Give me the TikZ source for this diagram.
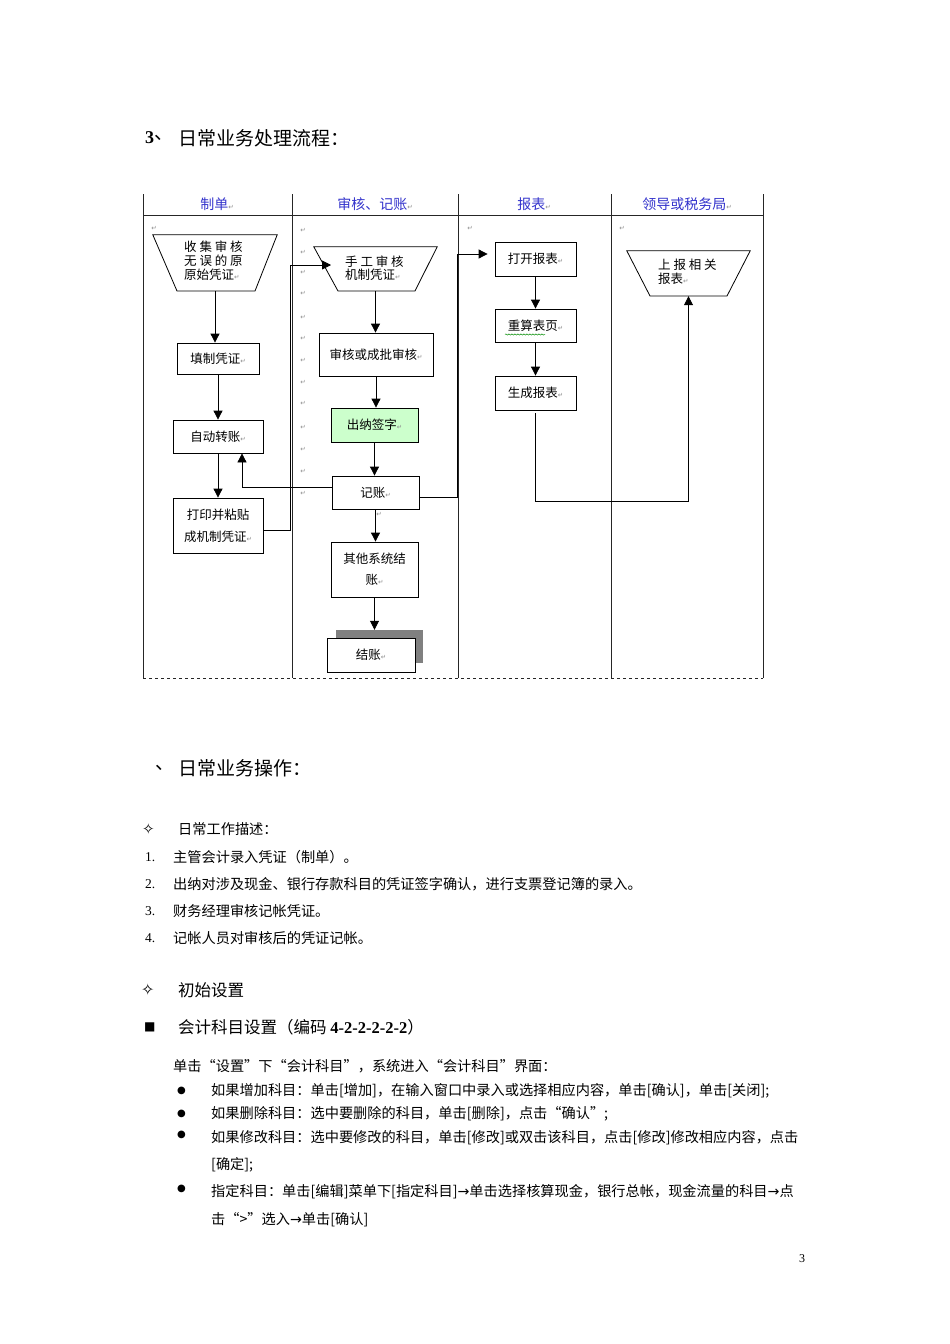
\documentclass[tikz,border=0pt]{standalone}
\usepackage{fontspec}
\setmainfont{Noto Sans CJK SC}
\newfontfamily\serifL{Liberation Serif}
\newfontfamily\djv{DejaVu Sans}
\usetikzlibrary{arrows.meta,decorations.pathmorphing}
\definecolor{hdrblue}{RGB}{51,51,204}
\definecolor{signgreen}{RGB}{204,255,204}
\newcommand\pmark{{\djv\fontsize{6.5}{6.5}\selectfont\color{black!45}↵}}
\newcommand\fnode[7][]{\node[flowbox,minimum width={(#5-#3)*1pt},minimum height={(#6-#4)*1pt},#1] (#2) at ({(#3+#5)/2},{(#4+#6)/2}) {#7};}
\begin{document}
\begin{tikzpicture}[x=1pt,y=-1pt,
  flowbox/.style={draw=black, line width=0.8pt, fill=white, inner sep=0pt, font=\fontsize{12.5}{15}\selectfont, align=center},
  conn/.style={draw=black, line width=0.8pt},
  arr/.style={conn, -{Triangle[length=9pt,width=9pt]}},
  lane/.style={draw=black!85, line width=0.8pt},
  hdr/.style={text=hdrblue, font=\fontsize{14}{16}\selectfont, inner sep=0pt},
  pm/.style={inner sep=0pt, font=\djv\fontsize{6.5}{6.5}\selectfont, text=black!45},
  body/.style={anchor=west, inner sep=0pt, font=\fontsize{14.2}{16}\selectfont},
  trapbox/.style={inner sep=0pt, draw=none},
]
\useasboundingbox (0,0) rectangle (950,1344);
\fill[white] (0,0) rectangle (950,1344);

% title
\node[anchor=west, inner sep=0pt, font=\serifL\bfseries\fontsize{18}{20}\selectfont] (t3) at (145,138) {3};
\node[anchor=west, inner sep=0pt, font=\fontsize{19}{21}\selectfont] (t3b) at (154,138) {、};
\node[anchor=west, inner sep=0pt, font=\fontsize{19}{21}\selectfont] (title) at (178,138) {日常业务处理流程：};

% lanes
\draw[lane] (143,194) -- (143,678);
\draw[lane] (292,194) -- (292,678);
\draw[lane] (458,194) -- (458,678);
\draw[lane] (611,194) -- (611,678);
\draw[lane] (763,194) -- (763,678);
\draw[lane] (143,215) -- (763,215);
\draw[lane, dashed] (143,678) -- (763,678);

\node[hdr] (h1) at (217,204) {制单\pmark};
\node[hdr] (h2) at (375,204) {审核、记账\pmark};
\node[hdr] (h3) at (534,204) {报表\pmark};
\node[hdr] (h4) at (687,204) {领导或税务局\pmark};

% paragraph marks
\node[pm] (pmA) at (154,228) {↵};
\node[pm] (pmC) at (470,228) {↵};
\node[pm] (pmD) at (622,228) {↵};
\foreach \yy in {230,252,272,293,317,338,360,382,403,427,449,471,493}
  \node[pm] (pmB\yy) at (303,\yy) {↵};
\node[pm] (pmJ) at (379,514) {↵};

% trapezoids
\node[trapbox, minimum width=124pt, minimum height=56pt] (ta) at (215,263) {};
\draw[conn] (ta.north west) -- (ta.north east) -- (255,291) -- (177,291) -- cycle;
\node[anchor=west, align=left, inner sep=0pt, font=\fontsize{12.5}{14}\selectfont] (tat) at (184,261) {收 集 审 核\\无 误 的 原\\原始凭证\pmark};

\node[trapbox, minimum width=123pt, minimum height=44pt] (tb) at (375.5,269) {};
\draw[conn] (tb.north west) -- (tb.north east) -- (415,291) -- (338,291) -- cycle;
\node[anchor=west, align=left, inner sep=0pt, font=\fontsize{12.5}{13}\selectfont] (tbt) at (345,268) {手 工 审 核\\机制凭证\pmark};

\node[trapbox, minimum width=123pt, minimum height=45pt] (tc) at (688.5,273.5) {};
\draw[conn] (tc.north west) -- (tc.north east) -- (727,296) -- (650,296) -- cycle;
\node[anchor=west, align=left, inner sep=0pt, font=\fontsize{12.5}{14}\selectfont] (tct) at (658,272) {上 报 相 关\\报表\pmark};

% boxes
\fnode{tz}{177}{343}{259}{374}{填制凭证\pmark}
\fnode{zd}{173}{420}{263}{453}{自动转账\pmark}
\fnode[font=\fontsize{12.5}{22}\selectfont]{dy}{173}{498}{263}{553}{打印并粘贴\\成机制凭证\pmark}

\fnode{sh}{319}{333}{433}{376}{审核或成批审核\pmark}
\fnode[fill=signgreen]{cn}{331}{408}{418}{442}{出纳签字\pmark}
\fnode{jz}{332}{476}{419}{509}{记账\pmark}
\fnode[font=\fontsize{12.5}{21}\selectfont]{qt}{331}{542}{418}{597}{其他系统结\\账\pmark}
\node[fill=black!50, inner sep=0pt, minimum width=87pt, minimum height=33pt] (shd) at (379.5,646.5) {};
\fnode{jzz}{327}{638}{415}{672}{结账\pmark}

\fnode{dk}{495}{242}{576}{276}{打开报表\pmark}
\fnode{cs}{495}{309}{576}{342}{重算表页\pmark}
\fnode{sc}{495}{376}{576}{410}{生成报表\pmark}
\draw[green!55!black, line width=0.5pt, decorate, decoration={snake, amplitude=0.6pt, segment length=3pt}] (505,334.5) -- (545,334.5);

% connectors
\coordinate (tbin) at (331,265);
\draw[arr] (ta.south) -- (ta.south |- tz.north);
\draw[arr] (tz.south) -- (tz.south |- zd.north);
\draw[arr] (zd.south) -- (zd.south |- dy.north);
\draw[arr] (dy.east |- 0,530) -- (290.5,530) -- (290.5,265) -- (tbin);
\draw[arr] (jz.west |- 0,487) -- (242,487) -- (zd.south -| 242,0);
\draw[arr] (tb.south) -- (tb.south |- sh.north);
\draw[arr] (sh.south) -- (sh.south |- cn.north);
\draw[arr] (cn.south) -- (cn.south |- jz.north);
\draw[arr] (jz.south) -- (jz.south |- qt.north);
\draw[arr] (qt.south) -- (qt.south |- shd.north);
\draw[arr, shorten >=7pt] (jz.east |- 0,497) -- (457,497) -- (457,254) -- (dk.west |- 0,254);
\draw[arr] (dk.south) -- (dk.south |- cs.north);
\draw[arr] (cs.south) -- (cs.south |- sc.north);
\draw[arr] ([yshift=-3pt]sc.south) -- (sc.south |- 0,501) -- (tc.south |- 0,501) -- (tc.south);

% section 2
\node[anchor=west, inner sep=0pt, font=\fontsize{19}{21}\selectfont] (s2a) at (155,768) {、};
\node[anchor=west, inner sep=0pt, font=\fontsize{19}{21}\selectfont] (s2) at (178,768) {日常业务操作：};

\node[anchor=west, inner sep=0pt, font=\djv\fontsize{15}{17}\selectfont] (d1) at (142,829) {✧};
\node[body] (d1t) at (178,829) {日常工作描述：};
\node[anchor=west, inner sep=0pt, font=\serifL\fontsize{13.5}{15}\selectfont] (n1) at (145,857) {1.};
\node[body] (n1t) at (173,857) {主管会计录入凭证（制单）。};
\node[anchor=west, inner sep=0pt, font=\serifL\fontsize{13.5}{15}\selectfont] (n2) at (145,884) {2.};
\node[body] (n2t) at (173,884) {出纳对涉及现金、银行存款科目的凭证签字确认，进行支票登记簿的录入。};
\node[anchor=west, inner sep=0pt, font=\serifL\fontsize{13.5}{15}\selectfont] (n3) at (145,911) {3.};
\node[body] (n3t) at (173,911) {财务经理审核记帐凭证。};
\node[anchor=west, inner sep=0pt, font=\serifL\fontsize{13.5}{15}\selectfont] (n4) at (145,938) {4.};
\node[body] (n4t) at (173,938) {记帐人员对审核后的凭证记帐。};

\node[anchor=west, inner sep=0pt, font=\djv\fontsize{16}{18}\selectfont] (d2) at (141,990) {✧};
\node[anchor=west, inner sep=0pt, font=\fontsize{16.5}{18}\selectfont] (d2t) at (178,990) {初始设置};
\node[anchor=west, inner sep=0pt, font=\djv\fontsize{12}{14}\selectfont] (sq) at (144,1027) {■};
\node[anchor=west, inner sep=0pt, font=\fontsize{16.5}{18}\selectfont] (sqt) at (178,1027) {会计科目设置（编码 {\serifL\bfseries 4-2-2-2-2-2}）};

\node[body] (p1) at (173,1066) {单击“设置”下“会计科目”，系统进入“会计科目”界面：};
\node[anchor=west, inner sep=0pt, font=\djv\fontsize{10}{12}\selectfont] (b1) at (177,1091) {●};
\node[body] (b1t) at (211,1091) {如果增加科目：单击[增加]，在输入窗口中录入或选择相应内容，单击[确认]，单击[关闭];};
\node[anchor=west, inner sep=0pt, font=\djv\fontsize{10}{12}\selectfont] (b2) at (177,1114) {●};
\node[body] (b2t) at (211,1114) {如果删除科目：选中要删除的科目，单击[删除]，点击“确认”;};
\node[anchor=west, inner sep=0pt, font=\djv\fontsize{10}{12}\selectfont] (b3) at (177,1135) {●};
\node[body] (b3t) at (211,1138) {如果修改科目：选中要修改的科目，单击[修改]或双击该科目，点击[修改]修改相应内容，点击};
\node[body] (b3u) at (211,1165) {[确定];};
\node[anchor=west, inner sep=0pt, font=\djv\fontsize{10}{12}\selectfont] (b4) at (177,1189) {●};
\node[body] (b4t) at (211,1192) {指定科目：单击[编辑]菜单下[指定科目]{\djv →}单击选择核算现金，银行总帐，现金流量的科目{\djv →}点};
\node[body] (b4u) at (211,1220) {击“>”选入{\djv →}单击[确认]};

\node[anchor=west, inner sep=0pt, font=\serifL\fontsize{12}{14}\selectfont] (pg) at (799,1259) {3};
\end{tikzpicture}
\end{document}
